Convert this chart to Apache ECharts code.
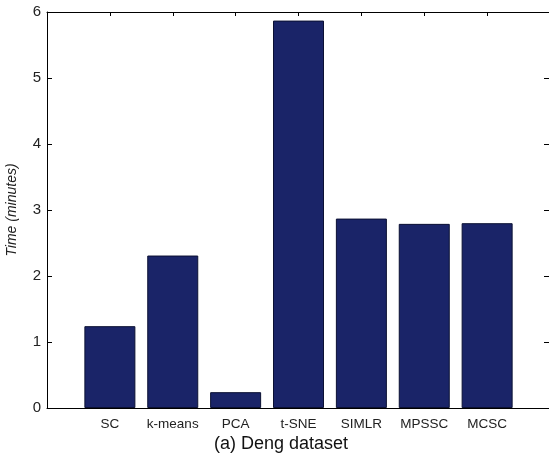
<!DOCTYPE html>
<html>
<head>
<meta charset="utf-8">
<script src="https://cdn.jsdelivr.net/npm/echarts@6/dist/echarts.min.js"></script>
<style>html,body{margin:0;padding:0;background:#fff}#c{width:549px;height:460px}</style>
</head>
<body>
<div id="c"></div>
<script>
var categories = ['SC', 'k-means', 'PCA', 't-SNE', 'SIMLR', 'MPSSC', 'MCSC'];
var timeMinutes = [1.24, 2.31, 0.24, 5.87, 2.87, 2.79, 2.80];
var yTicks = [0, 1, 2, 3, 4, 5, 6];
var xLabel = '(a) Deng dataset';
var yLabel = 'Time (minutes)';

var chart = echarts.init(document.getElementById('c'), null, {renderer: 'canvas'});
var barData = categories.map(function (c, i) { return [i + 1, timeMinutes[i]]; });
var font = 'Liberation Sans, Arial, sans-serif';
var line = {show: true, onZero: false, lineStyle: {color: '#000', width: 1}};

chart.setOption({
  animation: false,
  backgroundColor: '#fff',
  grid: {left: 47, width: 503, top: 12, height: 396, outerBoundsMode: 'none'},
  xAxis: [{
    type: 'value', min: 0, max: categories.length + 1, interval: 1,
    position: 'bottom',
    axisLine: line,
    axisTick: {show: false},
    splitLine: {show: false},
    axisLabel: {
      color: '#222', fontSize: 13.5, fontFamily: font, margin: 9,
      formatter: function (v) { return categories[v - 1] || ''; }
    }
  }, {
    type: 'value', min: 0, max: categories.length + 1, interval: 1,
    position: 'top',
    axisLine: line,
    axisTick: {show: true, inside: true, length: 4, lineStyle: {color: '#000'}},
    splitLine: {show: false},
    axisLabel: {show: false}
  }],
  yAxis: [{
    type: 'value', min: yTicks[0], max: yTicks[yTicks.length - 1], interval: 1,
    position: 'left',
    name: yLabel, nameLocation: 'middle', nameGap: 28,
    nameTextStyle: {fontStyle: 'italic', fontSize: 14, color: '#222', fontFamily: font},
    axisLine: line,
    axisTick: {show: true, inside: true, length: 5, lineStyle: {color: '#000'}},
    splitLine: {show: false},
    axisLabel: {color: '#222', fontSize: 15, fontFamily: font, margin: 6}
  }, {
    type: 'value', min: yTicks[0], max: yTicks[yTicks.length - 1], interval: 1,
    position: 'right',
    axisLine: line,
    axisTick: {show: true, inside: true, length: 6, lineStyle: {color: '#000'}},
    splitLine: {show: false},
    axisLabel: {show: false}
  }],
  series: [{
    type: 'bar',
    xAxisIndex: 0, yAxisIndex: 0,
    data: barData,
    barWidth: 51,
    itemStyle: {color: '#1a2468', borderColor: '#0b1033', borderWidth: 1}
  }],
  graphic: [{
    type: 'text',
    style: {
      x: 281, y: 444, text: xLabel, textAlign: 'center', textVerticalAlign: 'middle',
      fontSize: 18, fontFamily: font, fill: '#111'
    }
  }]
});
</script>
</body>
</html>
